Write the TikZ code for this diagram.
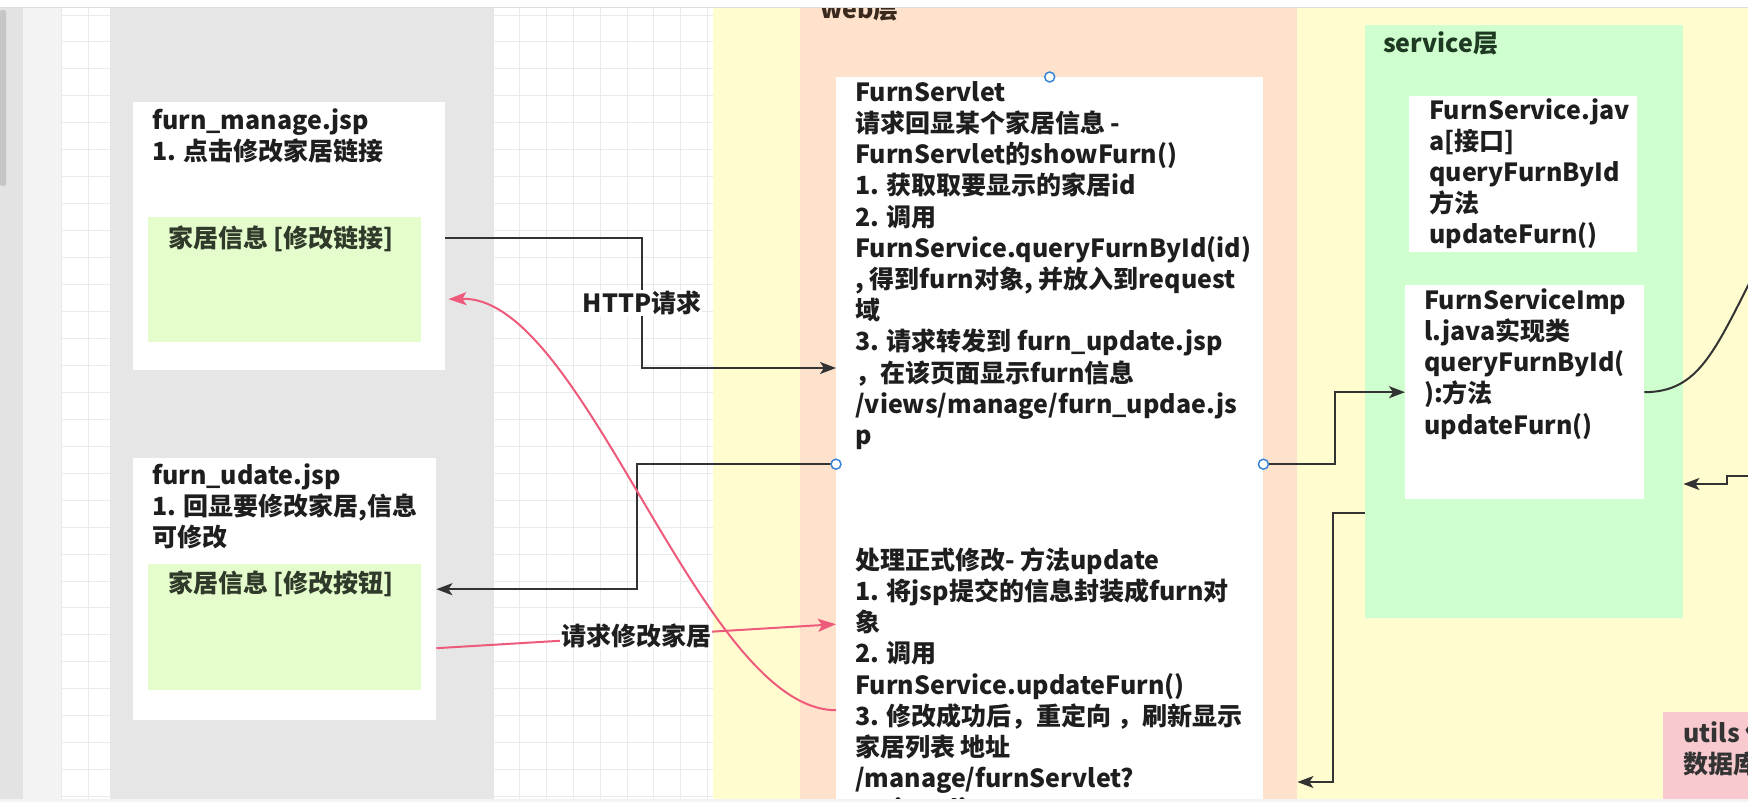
\documentclass[tikz,border=0pt]{standalone}
\usepackage{fontspec}
\setmainfont{Noto Sans CJK SC}
\usepackage{tikz}
\usetikzlibrary{arrows.meta, positioning, calc}
\definecolor{Grid_Line}{HTML}{EAEAEA}
\definecolor{Side_Gray}{HTML}{E3E3E3}
\definecolor{Side_Light}{HTML}{F3F3F3}
\definecolor{Scroll_Gray}{HTML}{C6C6C6}
\definecolor{Top_Line}{HTML}{DDDDDD}
\definecolor{Panel_Gray}{HTML}{E6E6E6}
\definecolor{Layer_Yellow}{HTML}{FFFDD0}
\definecolor{Web_Peach}{HTML}{FFE2CC}
\definecolor{Service_Green}{HTML}{CFFFCF}
\definecolor{Item_Green}{HTML}{E5FDCC}
\definecolor{Utils_Pink}{HTML}{F8CACF}
\definecolor{Flow_Ink}{HTML}{333333}
\definecolor{Flow_Red}{HTML}{EE5A7B}
\definecolor{Handle_Blue}{HTML}{3A85D8}
\definecolor{Text_Ink}{HTML}{1E1E1E}
\definecolor{Item_Ink}{HTML}{2F3A2A}
\definecolor{Web_Ink}{HTML}{3A2A1E}
\definecolor{Service_Ink}{HTML}{1F3A22}
\newcommand{\topline}{\rule{0pt}{24pt}}

\begin{document}
\begin{tikzpicture}[x=1pt, y=-1pt,
    box/.style={rectangle, inner sep=0pt, anchor=north west},
    txt/.style={anchor=north west, align=left, inner sep=0pt, text=Text_Ink, font=\bfseries\fontsize{25}{31.2}\selectfont},
    flow/.style={draw=Flow_Ink, line width=2pt, -{Stealth[length=16pt, width=12pt, inset=4pt]}},
    redflow/.style={draw=Flow_Red, line width=2pt, -{Stealth[length=18pt, width=13pt, inset=4pt]}},
    handle/.style={circle, draw=Handle_Blue, fill=white, line width=1.5pt, minimum size=10pt, inner sep=0pt},
    lbl/.style={fill=white, inner sep=1pt, text=Text_Ink, font=\bfseries\fontsize{25}{30}\selectfont}]
    \useasboundingbox (0,0) rectangle (1748,802);
    \clip (0,0) rectangle (1748,802);

    % Canvas and grid
    \fill[white] (0,0) rectangle (1748,802);
    \begin{scope}
        \clip (61,8) rectangle (713,802);
        \foreach \k in {-1,...,23}
            \draw[Grid_Line, line width=1pt] ({88+26.95*\k},8) -- ++(0,794);
        \foreach \k in {-1,...,28}
            \draw[Grid_Line, line width=1pt] (61,{42+26.95*\k}) -- ++(652,0);
    \end{scope}

    % Side strips
    \fill[Side_Gray] (0,8) rectangle (23,802);
    \fill[Side_Light] (23,8) rectangle (61,802);
    \fill[Scroll_Gray, rounded corners=2pt] (0,10) rectangle (6,186);

    % Page panel
    \fill[Panel_Gray] (110,8) rectangle (494,802);

    % Layers
    \node[box, fill=Layer_Yellow, minimum width=1060pt, minimum height=830pt] (layers) at (713,-10) {};
    \node[box, fill=Web_Peach, minimum width=497pt, minimum height=830pt] (web) at (800,-10) {};
    \node[box, fill=Service_Green, minimum width=318pt, minimum height=593pt] (service) at (1365,25) {};
    \node[box, fill=Utils_Pink, minimum width=120pt, minimum height=120pt] (utils) at (1663,712) {};
    \node[txt, text=Web_Ink] (weblbl) at (820,-6) {\topline web层};
    \node[txt, text=Service_Ink] (servicelbl) at (1383,28) {\topline service层};
    \node[txt, text=Flow_Ink] (utilslbl) at (1683,718) {\topline utils 作\\数据库};

    % furn_manage.jsp
    \node[box, fill=white, minimum width=312pt, minimum height=268pt] (manage) at (133,102) {};
    \node[txt] (managetxt) at (152,105) {\topline furn\_manage.jsp\\1. 点击修改家居链接};
    \node[box, fill=Item_Green, minimum width=273pt, minimum height=125pt] (linkbox) at (148,217) {};
    \node[txt, text=Item_Ink] (linktxt) at (168,223) {\topline 家居信息 [修改链接]};

    % furn_udate.jsp
    \node[box, fill=white, minimum width=303pt, minimum height=262pt] (udate) at (133,458) {};
    \node[txt] (udatetxt) at (152,460) {\topline furn\_udate.jsp\\1. 回显要修改家居,信息\\可修改};
    \node[box, fill=Item_Green, minimum width=273pt, minimum height=126pt] (btnbox) at (148,564) {};
    \node[txt, text=Item_Ink] (btntxt) at (168,568) {\topline 家居信息 [修改按钮]};

    % FurnServlet
    \node[box, fill=white, minimum width=427pt, minimum height=774pt] (servlet) at (836,77) {};
    \node[txt] (showtxt) at (855,77) {\topline FurnServlet\\请求回显某个家居信息 -\\FurnServlet的showFurn()\\1. 获取取要显示的家居id\\2. 调用\\FurnService.queryFurnById(id)\\, 得到furn对象, 并放入到request\\域\\3. 请求转发到 furn\_update.jsp\\，在该页面显示furn信息\\/views/manage/furn\_updae.js\\p};
    \node[txt] (updatetxt) at (855,545) {\topline 处理正式修改- 方法update\\1. 将jsp提交的信息封装成furn对\\象\\2. 调用\\FurnService.updateFurn()\\3. 修改成功后，重定向 ，刷新显示\\家居列表 地址\\/manage/furnServlet?\\action=list};

    % service boxes
    \node[box, fill=white, minimum width=228pt, minimum height=156pt] (iface) at (1409,96) {};
    \node[txt] (ifacetxt) at (1429,95) {\topline FurnService.jav\\a[接口]\\queryFurnById\\方法\\updateFurn()};
    \node[box, fill=white, minimum width=239pt, minimum height=214pt] (impl) at (1405,285) {};
    \node[txt] (impltxt) at (1424,285) {\topline FurnServiceImp\\l.java实现类\\queryFurnById(\\):方法\\updateFurn()};

    % HTTP request
    \coordinate (httpturn) at (642,238);
    \coordinate (httpin) at ($(servlet.north west)+(0,291)$);
    \draw[flow] (manage.east |- httpturn) -- (httpturn) -- node[lbl] {HTTP请求} (httpturn |- httpin) -- (httpin);

    % forward to furn_udate.jsp
    \draw[flow] (servlet.west) -- ++(-199,0) |- (udate.east);

    % redirect back to furn_manage.jsp
    \draw[redflow] ($(servlet.west)+(0,246)$) .. controls (700,710) and (585,295) .. ($(manage.east)+(3,63)$);

    % submit the change
    \draw[redflow] ($(udate.east)+(0,59)$) -- node[lbl] {请求修改家居} ($(servlet.west)+(0,160)$);

    % call the service
    \draw[flow] (servlet.east) -- ++(72,0) |- (impl.west);

    % to the dao side
    \draw[draw=Flow_Ink, line width=2pt] (impl.east) .. controls (1700,392) and (1715,350) .. (1760,262);
    \coordinate (daoin) at (1760,476);
    \draw[flow] (daoin) -- (1727,476) -- (1727,484) -- ($(service.north east)+(0,459)$);

    % back to the web layer
    \draw[flow] ($(service.north west)+(0,488)$) -- ++(-32,0) |- ($(web.north east)+(0,792)$);

    % selection handles
    \node[handle] (htop) at (servlet.north) {};
    \node[handle] (hleft) at (servlet.west) {};
    \node[handle] (hright) at (servlet.east) {};

    % Window edges
    \fill[white] (0,0) rectangle (1748,7.5);
    \draw[Top_Line, line width=1pt] (0,7.5) -- (1748,7.5);
    \fill[Side_Light] (0,799) rectangle (1748,802);
\end{tikzpicture}
\end{document}
